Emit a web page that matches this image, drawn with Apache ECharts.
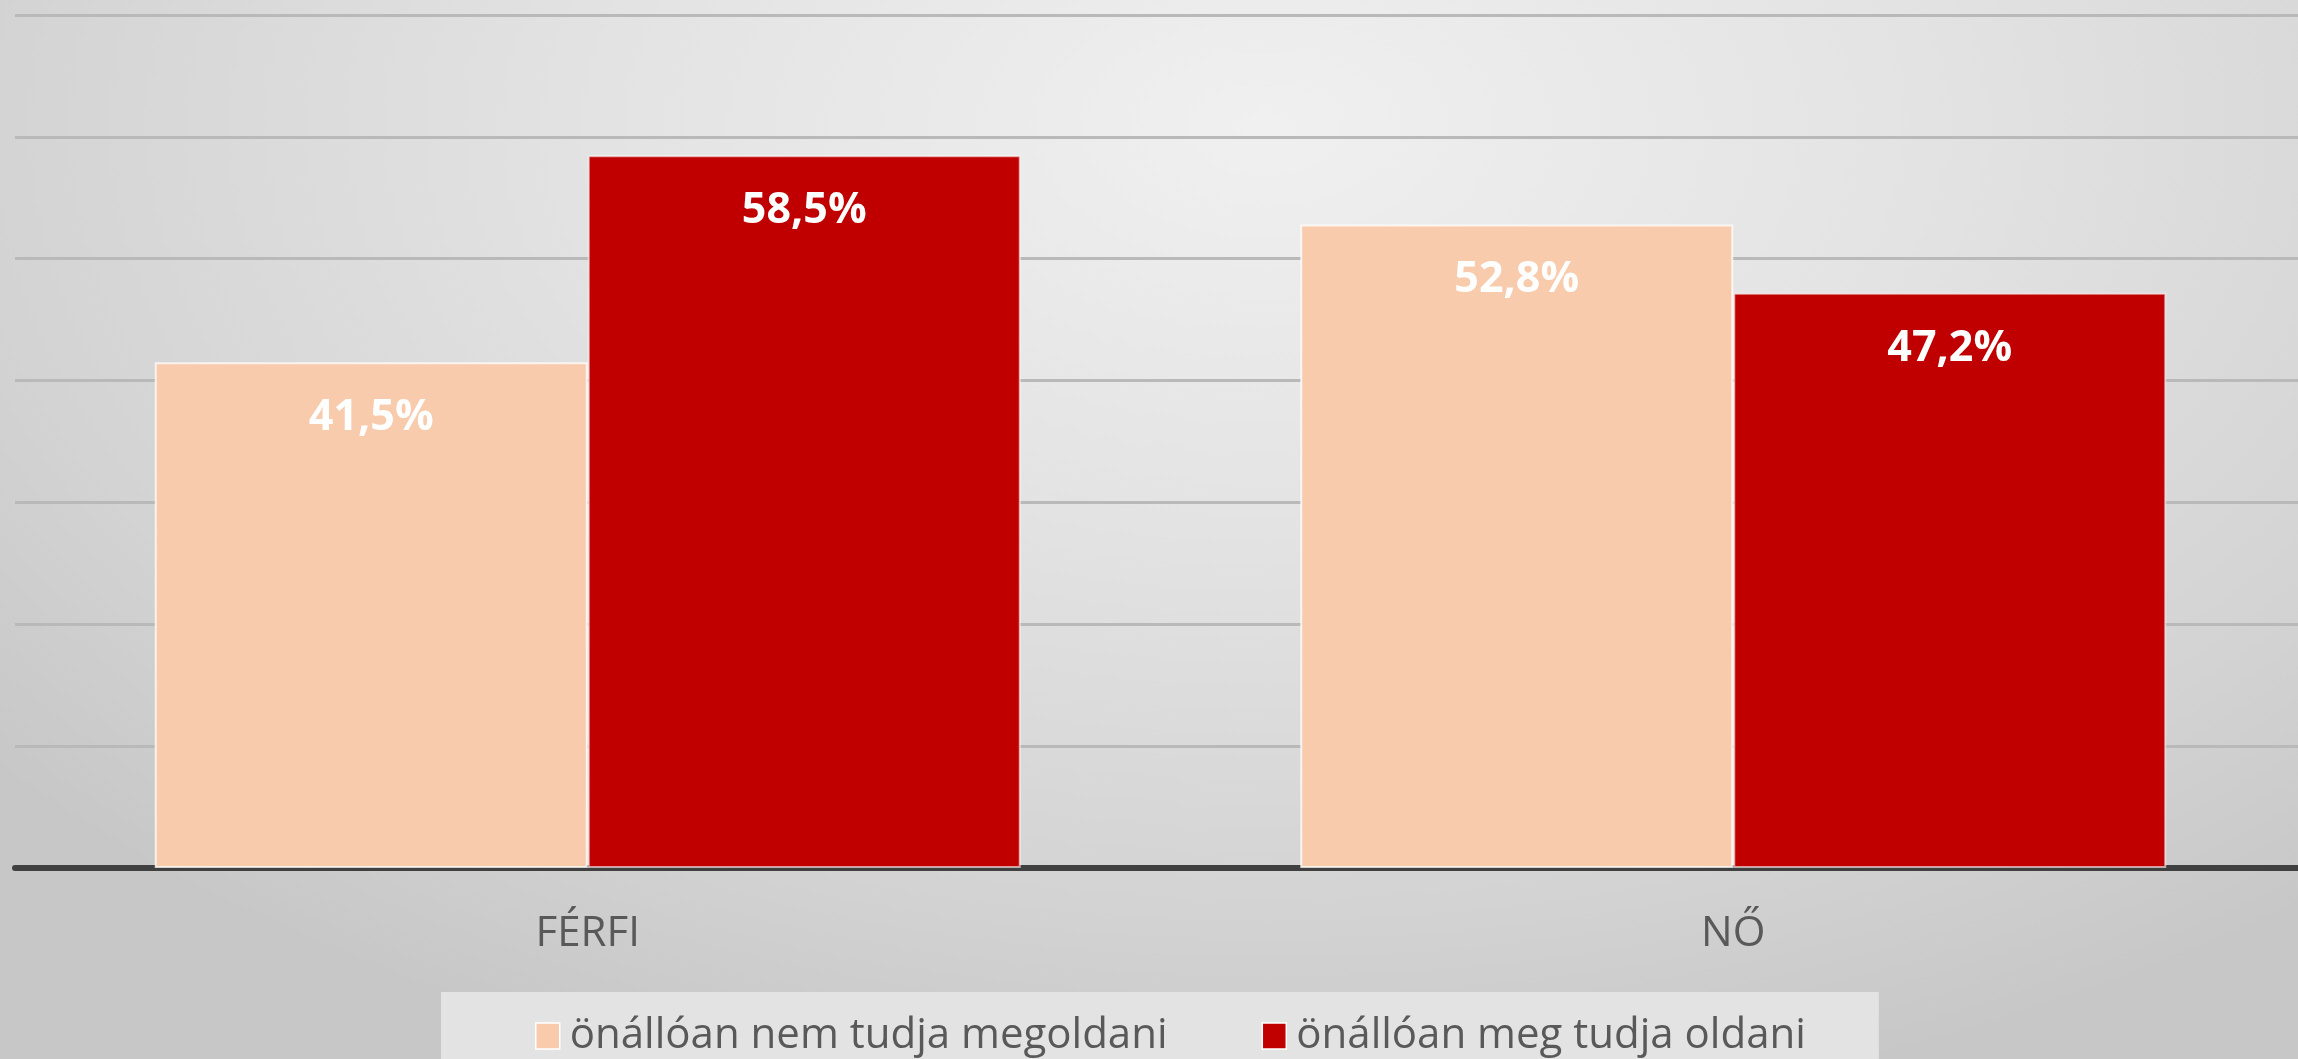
<!DOCTYPE html>
<html>
<head>
<meta charset="utf-8">
<script src="https://cdn.jsdelivr.net/npm/echarts@6/dist/echarts.min.js"></script>
<style>
html,body{margin:0;padding:0;width:2298px;height:1059px;overflow:hidden;}
#wrap{width:2298px;height:1059px;overflow:hidden;background:radial-gradient(ellipse 72% 95% at 55% 12%, #f0f0f0 0%, #e3e3e3 40%, #d3d3d3 78%, #c7c7c7 100%);}
#chart{width:2310px;height:1059px;}
</style>
</head>
<body>
<div id="wrap"><div id="chart"></div></div>
<script>
const categories = ['FÉRFI', 'NŐ'];
const seriesNames = ['önállóan nem tudja megoldani', 'önállóan meg tudja oldani'];
const cannotSolve = [41.5, 52.8];
const canSolve = [58.5, 47.2];
const yTicks = [0, 10, 20, 30, 40, 50, 60, 70];

const fmt = p => p.value.toFixed(1).replace('.', ',') + '%';
const font = '"Open Sans", "Noto Sans", sans-serif';

const chart = echarts.init(document.getElementById('chart'), null, {renderer: 'canvas'});
chart.setOption({
  backgroundColor: 'transparent',
  animation: false,
  textStyle: {fontFamily: font},
  grid: {left: 15, right: 4, top: 15, bottom: 191, containLabel: false},
  legend: {
    data: seriesNames,
    left: 441, top: 992,
    padding: [22, 73, 40, 94],
    itemGap: 94,
    itemWidth: 24, itemHeight: 26,
    icon: 'rect',
    backgroundColor: '#e3e3e3',
    textStyle: {color: '#595959', fontSize: 42, fontFamily: font, lineHeight: 44, padding: [0, 0, 0, 5]},
    itemStyle: {borderColor: '#ffffff', borderWidth: 1.5}
  },
  xAxis: {
    type: 'category',
    data: categories,
    axisTick: {show: false},
    axisLine: {lineStyle: {color: '#404040', width: 6}},
    axisLabel: {color: '#595959', fontSize: 42, fontFamily: font, margin: 45}
  },
  yAxis: {
    type: 'value',
    min: yTicks[0], max: yTicks[yTicks.length - 1], interval: 10,
    axisLabel: {show: false},
    axisLine: {show: false},
    axisTick: {show: false},
    splitLine: {lineStyle: {color: '#b9b9b9', width: 3}}
  },
  series: [
    {
      name: seriesNames[0], type: 'bar', data: cannotSolve,
      barWidth: '37.8%', barGap: '0%',
      itemStyle: {color: '#F8CBAD', borderColor: 'rgba(255,255,255,0.75)', borderWidth: 2},
      label: {show: true, position: 'insideTop', distance: 34, color: '#ffffff', fontWeight: 'bold', fontSize: 43, fontFamily: font, formatter: fmt}
    },
    {
      name: seriesNames[1], type: 'bar', data: canSolve,
      barWidth: '37.8%', barGap: '0%',
      itemStyle: {color: '#C00000', borderColor: 'rgba(255,255,255,0.6)', borderWidth: 2},
      label: {show: true, position: 'insideTop', distance: 34, color: '#ffffff', fontWeight: 'bold', fontSize: 43, fontFamily: font, formatter: fmt}
    }
  ]
});
</script>
</body>
</html>
